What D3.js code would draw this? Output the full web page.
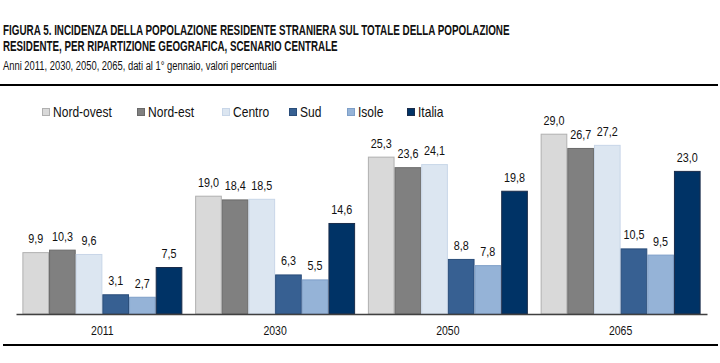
<!DOCTYPE html>
<html>
<head>
<meta charset="utf-8">
<script src="https://cdn.jsdelivr.net/npm/d3@7"></script>
<style>
  body { margin: 0; background: #fff; }
  text { font-family: "Liberation Sans", Arial, sans-serif; }
</style>
</head>
<body>
<div id="chart"></div>
<script>
'use strict';

// dati
var years = ['2011', '2030', '2050', '2065'];
var areas = ['Nord-ovest', 'Nord-est', 'Centro', 'Sud', 'Isole', 'Italia'];
var nordOvest = [9.9, 19.0, 25.3, 29.0];
var nordEst   = [10.3, 18.4, 23.6, 26.7];
var centro    = [9.6, 18.5, 24.1, 27.2];
var sud       = [3.1, 6.3, 8.8, 10.5];
var isole     = [2.7, 5.5, 7.8, 9.5];
var italia    = [7.5, 14.6, 19.8, 23.0];

var W = 720, H = 363;
var fills   = ['#d9d9d9', '#808080', '#dce6f1', '#376092', '#95b3d7', '#003366'];
var strokes = ['#b0b0b0', '#6a6a6a', '#c8d6e8', '#2a4d7a', '#7e9fc8', '#1a2c4a'];

var series = [nordOvest, nordEst, centro, sud, isole, italia];
var table = years.map(function(y, i) {
  return { year: y, values: areas.map(function(a, k) { return { key: a, k: k, v: series[k][i] }; }) };
});

// stringe il testo in orizzontale (tipo Arial Narrow): fattore fisso o larghezza voluta
function squeeze(sel, f, width) {
  sel.each(function() {
    var t = d3.select(this);
    var x = +t.attr('x') || 0, yy = +t.attr('y') || 0;
    var k = width ? width / this.getComputedTextLength() : f;
    t.attr('x', 0).attr('y', 0)
      .attr('transform', 'translate(' + x + ',' + yy + ') scale(' + k + ',1)');
  });
}

var svg = d3.select('#chart').append('svg')
  .attr('width', W).attr('height', H);

// titolo
var t1 = svg.append('text').attr('x', 3).attr('y', 34.5)
  .style('font-weight', 'bold').style('font-size', '14.5px').attr('fill', '#111')
  .text('FIGURA 5. INCIDENZA DELLA POPOLAZIONE RESIDENTE STRANIERA SUL TOTALE DELLA POPOLAZIONE');
squeeze(t1, null, 507);
var t2 = svg.append('text').attr('x', 3).attr('y', 51)
  .style('font-weight', 'bold').style('font-size', '14.5px').attr('fill', '#111')
  .text('RESIDENTE, PER RIPARTIZIONE GEOGRAFICA, SCENARIO CENTRALE');
squeeze(t2, null, 335);
var t3 = svg.append('text').attr('x', 3).attr('y', 70)
  .style('font-size', '13.5px').attr('fill', '#111')
  .text('Anni 2011, 2030, 2050, 2065, dati al 1° gennaio, valori percentuali');
squeeze(t3, null, 274);

// filetti
svg.append('line').attr('x1', 0).attr('x2', 718).attr('y1', 85).attr('y2', 85)
  .attr('stroke', '#000').attr('stroke-width', 2);
svg.append('line').attr('x1', 3).attr('x2', 718).attr('y1', 345).attr('y2', 345)
  .attr('stroke', '#000').attr('stroke-width', 2);

// scale
var x0 = d3.scaleBand().domain(years).range([16, 707]).paddingInner(0.074).paddingOuter(0.037);
var x1 = d3.scaleBand().domain(areas).range([0, x0.bandwidth()]);
var y = d3.scaleLinear().domain([0, 35]).range([314, 97]);

var groups = svg.append('g').selectAll('g')
  .data(table).enter().append('g')
  .attr('transform', function(d) { return 'translate(' + x0(d.year) + ',0)'; });

groups.selectAll('rect')
  .data(function(d) { return d.values; })
  .enter().append('rect')
  .attr('x', function(d) { return x1(d.key) + 0.5; })
  .attr('y', function(d) { return y(d.v); })
  .attr('width', x1.bandwidth() - 1)
  .attr('height', function(d) { return y(0) - y(d.v); })
  .attr('fill', function(d) { return fills[d.k]; })
  .attr('stroke', function(d) { return strokes[d.k]; })
  .attr('stroke-width', 1);

var vals = groups.selectAll('text.val')
  .data(function(d) { return d.values; })
  .enter().append('text')
  .attr('class', 'val')
  .attr('x', function(d) { return x1(d.key) + x1.bandwidth() / 2; })
  .attr('y', function(d) { return y(d.v) - 9.5; })
  .attr('text-anchor', 'middle')
  .style('font-size', '12px').attr('fill', '#111')
  .text(function(d) { return d3.format('.1f')(d.v).replace('.', ','); });
squeeze(vals, 0.9);

// asse x
var xAxis = svg.append('g').attr('transform', 'translate(0,314)')
  .call(d3.axisBottom(x0).tickSize(0).tickPadding(12).tickSizeOuter(0));
xAxis.select('.domain').attr('stroke', '#404040').attr('stroke-width', 1.5);
var ticks = xAxis.selectAll('text')
  .attr('dy', null).attr('y', 21)
  .style('font-size', '12.5px').attr('fill', '#111')
  .style('font-family', '"Liberation Sans", Arial, sans-serif');
squeeze(ticks, 0.84);

// legenda
var legendX = [42, 137, 222, 289, 347, 407];
var legend = svg.append('g').selectAll('g')
  .data(areas).enter().append('g')
  .attr('transform', function(d, i) { return 'translate(' + legendX[i] + ',0)'; });
legend.append('rect')
  .attr('x', 0.5).attr('y', 108.5).attr('width', 7).attr('height', 7)
  .attr('fill', function(d, i) { return fills[i]; })
  .attr('stroke', function(d, i) { return strokes[i]; });
var ltext = legend.append('text')
  .attr('x', 11).attr('y', 116.5)
  .style('font-size', '14px').attr('fill', '#111')
  .text(function(d) { return d; });
squeeze(ltext, 0.86);
</script>
</body>
</html>
